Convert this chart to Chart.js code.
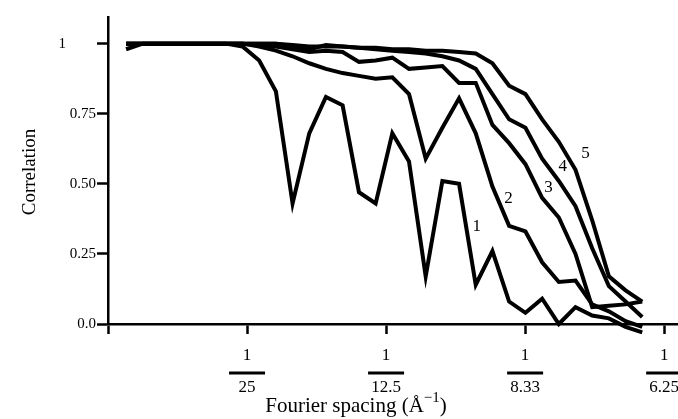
<!DOCTYPE html>
<html>
<head>
<meta charset="utf-8">
<title>Correlation vs Fourier spacing</title>
<script src="https://cdn.jsdelivr.net/npm/chart.js@4/dist/chart.umd.min.js"></script>
<style>
    html, body { margin: 0; padding: 0; background: #fff; }
    canvas { display: block; }
</style>
</head>
<body>
<canvas id="corrChart" width="678" height="419"></canvas>
<script>
// Data
const spacing = [0.0052, 0.0100, 0.0148, 0.0196, 0.0243, 0.0291, 0.0339, 0.0387,
    0.0435, 0.0483, 0.0531, 0.0579, 0.0627, 0.0675, 0.0722, 0.0770,
    0.0818, 0.0866, 0.0914, 0.0962, 0.1010, 0.1058, 0.1106, 0.1154,
    0.1201, 0.1249, 0.1297, 0.1345, 0.1393, 0.1441, 0.1489, 0.1537];

const corr1 = [0.98, 1.0, 1.0, 1.0, 1.0, 1.0, 1.0, 0.99, 0.94, 0.83, 0.43, 0.68, 0.81, 0.78, 0.47, 0.43,
    0.68, 0.58, 0.17, 0.51, 0.50, 0.14, 0.26, 0.08, 0.04, 0.09, 0.0, 0.06, 0.03, 0.02, -0.01, -0.03];
const corr2 = [1.0, 1.0, 1.0, 1.0, 1.0, 1.0, 1.0, 1.0, 0.99, 0.975, 0.955, 0.93, 0.91, 0.895, 0.885, 0.875,
    0.88, 0.82, 0.59, 0.70, 0.805, 0.68, 0.49, 0.35, 0.33, 0.22, 0.15, 0.155, 0.07, 0.045, 0.01, -0.01];
const corr3 = [1.0, 1.0, 1.0, 1.0, 1.0, 1.0, 1.0, 1.0, 0.995, 0.99, 0.98, 0.97, 0.975, 0.97, 0.935, 0.94,
    0.95, 0.91, 0.915, 0.92, 0.86, 0.86, 0.71, 0.645, 0.57, 0.45, 0.38, 0.25, 0.06, 0.065, 0.07, 0.08];
const corr4 = [1.0, 1.0, 1.0, 1.0, 1.0, 1.0, 1.0, 1.0, 1.0, 1.0, 0.99, 0.98, 0.995, 0.99, 0.985, 0.98,
    0.975, 0.97, 0.965, 0.955, 0.94, 0.91, 0.82, 0.73, 0.70, 0.59, 0.51, 0.42, 0.27, 0.135, 0.08, 0.025];
const corr5 = [1.0, 1.0, 1.0, 1.0, 1.0, 1.0, 1.0, 1.0, 1.0, 1.0, 0.995, 0.99, 0.99, 0.99, 0.985, 0.985,
    0.98, 0.98, 0.975, 0.975, 0.97, 0.965, 0.93, 0.85, 0.82, 0.73, 0.65, 0.55, 0.37, 0.17, 0.12, 0.08];

const curveNames = ['1', '2', '3', '4', '5'];
// where each curve number sits, in data units [spacing, correlation]
const curveLabelAt = [[0.1061, 0.346], [0.1152, 0.447], [0.1267, 0.486], [0.1308, 0.560], [0.1374, 0.607]];

const corrTicks = [0, 0.25, 0.5, 0.75, 1];
const corrTickLabels = ['0.0', '0.25', '0.50', '0.75', '1'];
const spacingTicks = [0, 0.04, 0.08, 0.12, 0.16];
const resolutionLabels = ['', '25', '12.5', '8.33', '6.25'];

const SERIF = '"Liberation Serif", "DejaVu Serif", serif';

// Fractions under the x axis, axis titles and curve numbers
const textPlugin = {
    id: 'figureText',
    afterDraw(chart) {
        const { ctx, scales: { x, y } } = chart;
        ctx.save();
        ctx.fillStyle = '#000';
        ctx.strokeStyle = '#000';
        ctx.textAlign = 'center';
        ctx.textBaseline = 'middle';

        // x tick labels as 1/d
        ctx.font = '17px ' + SERIF;
        ctx.lineWidth = 3;
        spacingTicks.forEach((v, i) => {
            if (!resolutionLabels[i]) return;
            const px = x.getPixelForValue(v);
            ctx.fillText('1', px, y.bottom + 32);
            ctx.beginPath();
            ctx.moveTo(px - 18, y.bottom + 49);
            ctx.lineTo(px + 18, y.bottom + 49);
            ctx.stroke();
            ctx.fillText(resolutionLabels[i], px, y.bottom + 64);
        });

        // x title with superscript
        const mainText = 'Fourier spacing (\u00C5';
        const supText = '\u22121';
        ctx.font = '21px ' + SERIF;
        const wMain = ctx.measureText(mainText).width;
        const wClose = ctx.measureText(')').width;
        ctx.font = '15px ' + SERIF;
        const wSup = ctx.measureText(supText).width;
        let tx = 356 - (wMain + wSup + wClose) / 2;
        const ty = 406;
        ctx.textAlign = 'left';
        ctx.font = '21px ' + SERIF;
        ctx.fillText(mainText, tx, ty);
        tx += wMain;
        ctx.font = '15px ' + SERIF;
        ctx.fillText(supText, tx, ty - 8);
        tx += wSup;
        ctx.font = '21px ' + SERIF;
        ctx.fillText(')', tx, ty);

        // y title
        ctx.save();
        ctx.translate(30, 172);
        ctx.rotate(-Math.PI / 2);
        ctx.textAlign = 'center';
        ctx.font = '19px ' + SERIF;
        ctx.fillText('Correlation', 0, 0);
        ctx.restore();

        // curve numbers
        ctx.textAlign = 'center';
        ctx.font = '17px ' + SERIF;
        curveNames.forEach((name, i) => {
            const [sx, cy] = curveLabelAt[i];
            ctx.fillText(name, x.getPixelForValue(sx), y.getPixelForValue(cy));
        });

        ctx.restore();
    }
};

function makeSeries(label, values) {
    return {
        label: label,
        data: spacing.map((s, i) => ({ x: s, y: values[i] })),
        borderColor: '#000',
        borderWidth: 4,
        pointRadius: 0,
        tension: 0,
        fill: false,
        clip: false
    };
}

const ctx = document.getElementById('corrChart').getContext('2d');
const corrChart = new Chart(ctx, {
    type: 'line',
    data: {
        datasets: [
            makeSeries('1', corr1),
            makeSeries('2', corr2),
            makeSeries('3', corr3),
            makeSeries('4', corr4),
            makeSeries('5', corr5)
        ]
    },
    options: {
        responsive: false,
        animation: false,
        layout: { padding: { top: 17, right: 1, left: 0, bottom: 0 } },
        plugins: {
            legend: { display: false },
            tooltip: { enabled: false }
        },
        scales: {
            x: {
                type: 'linear',
                min: 0,
                max: 0.1637,
                afterBuildTicks: scale => { scale.ticks = spacingTicks.map(v => ({ value: v })); },
                afterFit: scale => { scale.height = 95; },
                ticks: { display: false },
                grid: {
                    drawOnChartArea: false,
                    drawTicks: true,
                    tickLength: 10,
                    tickWidth: 2.5,
                    tickColor: '#000'
                },
                border: { display: true, color: '#000', width: 2.5 }
            },
            y: {
                type: 'linear',
                min: 0,
                max: 1.095,
                afterBuildTicks: scale => { scale.ticks = corrTicks.map(v => ({ value: v })); },
                afterFit: scale => { scale.width = 108; },
                ticks: {
                    color: '#000',
                    padding: 1,
                    font: { family: SERIF, size: 15 },
                    callback: value => {
                        const label = corrTickLabels[corrTicks.indexOf(value)];
                        // the top label sits further left in the original
                        return value === 1 ? label + '\u2003\u2003' : label;
                    }
                },
                grid: {
                    drawOnChartArea: false,
                    drawTicks: true,
                    tickLength: 11,
                    tickWidth: 2.5,
                    tickColor: '#000'
                },
                border: { display: true, color: '#000', width: 2.5 }
            }
        }
    },
    plugins: [textPlugin]
});
</script>
</body>
</html>
